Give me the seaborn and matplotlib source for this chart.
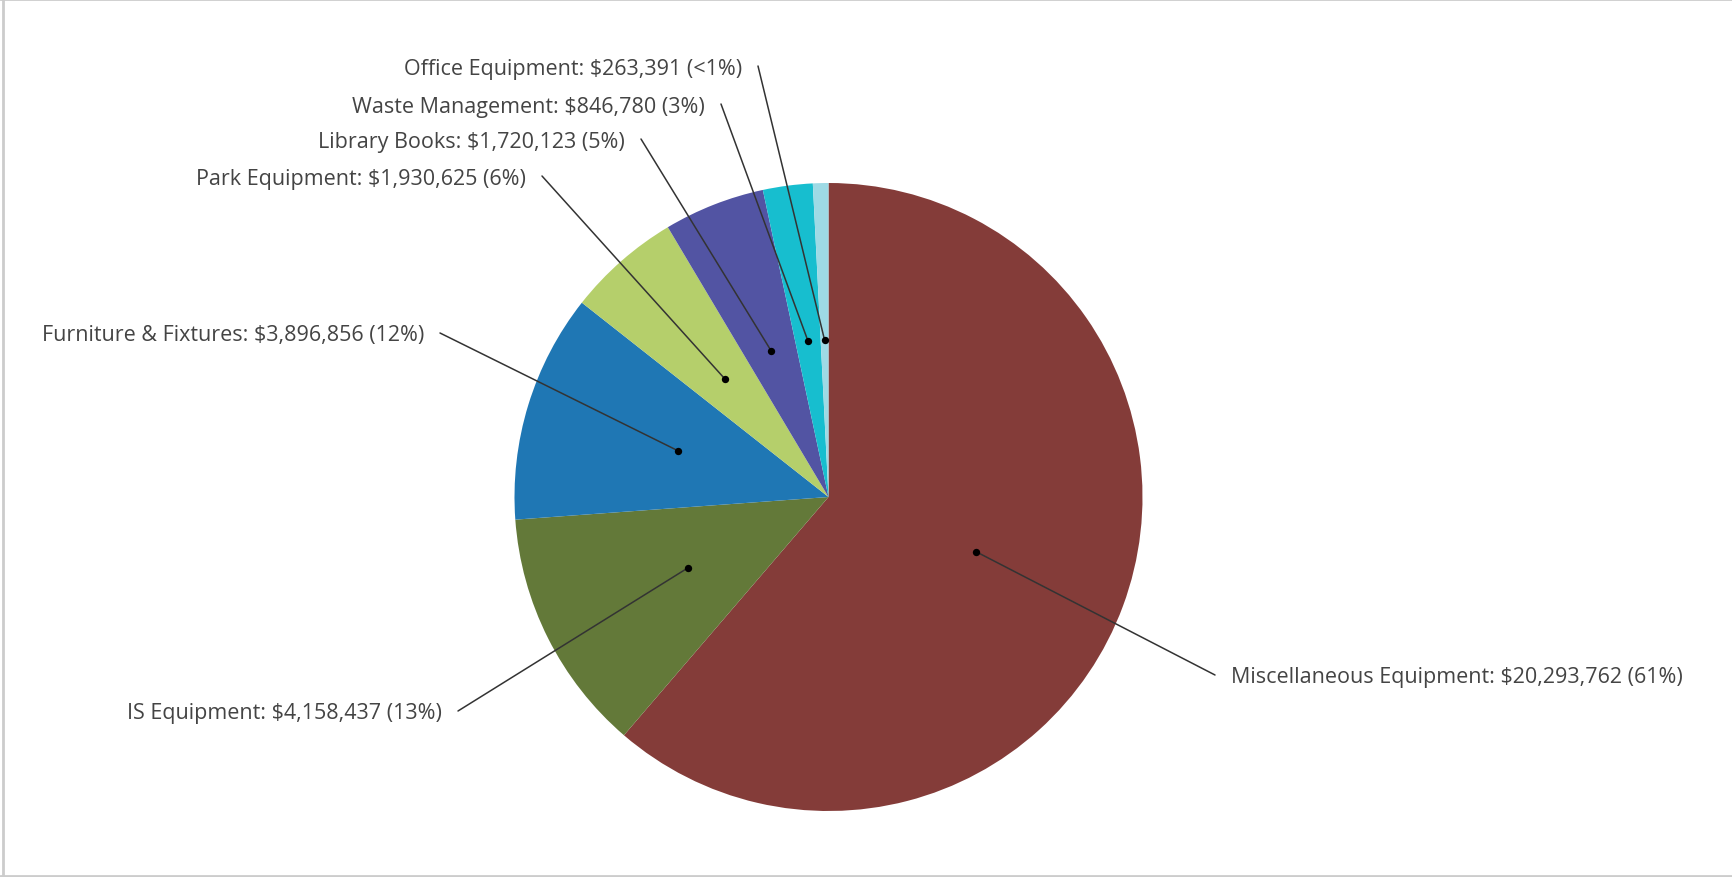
import matplotlib
matplotlib.use("Agg")
import matplotlib.pyplot as plt
import numpy as np
import seaborn as sns

# Equipment categories and their values (USD)
categories = [
    "Miscellaneous Equipment",
    "IS Equipment",
    "Furniture & Fixtures",
    "Park Equipment",
    "Library Books",
    "Waste Management",
    "Office Equipment",
]
values = [20293762, 4158437, 3896856, 1930625, 1720123, 846780, 263391]
colors = ["#843c39", "#637939", "#1f77b4", "#b5cf6b", "#5254a3", "#17becf", "#9edae5"]

# Label anchor points in pixels (x, y from top) and text alignment
label_anchor_px = [
    (1215, 676), (458, 712), (440, 334), (542, 177), (641, 140), (721, 105), (758, 67)
]
label_side = ["left", "right", "right", "right", "right", "right", "right"]

sns.set_theme(style="white")
plt.rcParams["font.family"] = ["Open Sans", "DejaVu Sans"]

W, H, DPI = 1732, 878, 100
fig = plt.figure(figsize=(W / DPI, H / DPI), dpi=DPI)
ax = fig.add_axes([0, 0, 1, 1])

cx_px, cy_px, r_px = 828.5, 498.0, 314.0


def to_data(px, py):
    return ((px - cx_px) / r_px, (cy_px - py) / r_px)


wedges, _ = ax.pie(
    values,
    colors=colors,
    startangle=90,
    counterclock=False,
    radius=1.0,
    center=(0, 0),
    wedgeprops=dict(linewidth=0),
)

ax.set_xlim(-cx_px / r_px, (W - cx_px) / r_px)
ax.set_ylim(-(H - cy_px) / r_px, cy_px / r_px)
ax.set_aspect("equal")
ax.axis("off")

total = float(sum(values))
for w, cat, val, anchor, side in zip(wedges, categories, values, label_anchor_px, label_side):
    mid = np.deg2rad((w.theta1 + w.theta2) / 2.0)
    dx, dy = 0.5 * np.cos(mid), 0.5 * np.sin(mid)
    pct = val / total * 100
    pct_txt = "<1%" if pct < 1 else f"{pct:.0f}%"
    ex, ey = to_data(*anchor)
    ax.plot([dx, ex], [dy, ey], color="#333333", lw=1.1, solid_capstyle="round", zorder=3)
    ax.scatter([dx], [dy], s=28, color="black", zorder=4, linewidths=0)
    gap = 16 / r_px
    tx = ex + gap if side == "left" else ex - gap
    ax.text(tx, ey - 2 / r_px, f"{cat}: ${val:,} ({pct_txt})", ha=side, va="center",
            fontsize=15.5, color="#444444")

# Light frame around the chart area
frame_color = "#cccccc"
fig.add_artist(plt.Line2D([0, 1], [0.9995, 0.9995], transform=fig.transFigure, color=frame_color, lw=2))
fig.add_artist(plt.Line2D([0.0015, 0.0015], [0, 1], transform=fig.transFigure, color=frame_color, lw=2))
fig.add_artist(plt.Line2D([0, 1], [0.0006, 0.0006], transform=fig.transFigure, color=frame_color, lw=2))

fig.savefig("out.png", dpi=DPI, facecolor="white")
